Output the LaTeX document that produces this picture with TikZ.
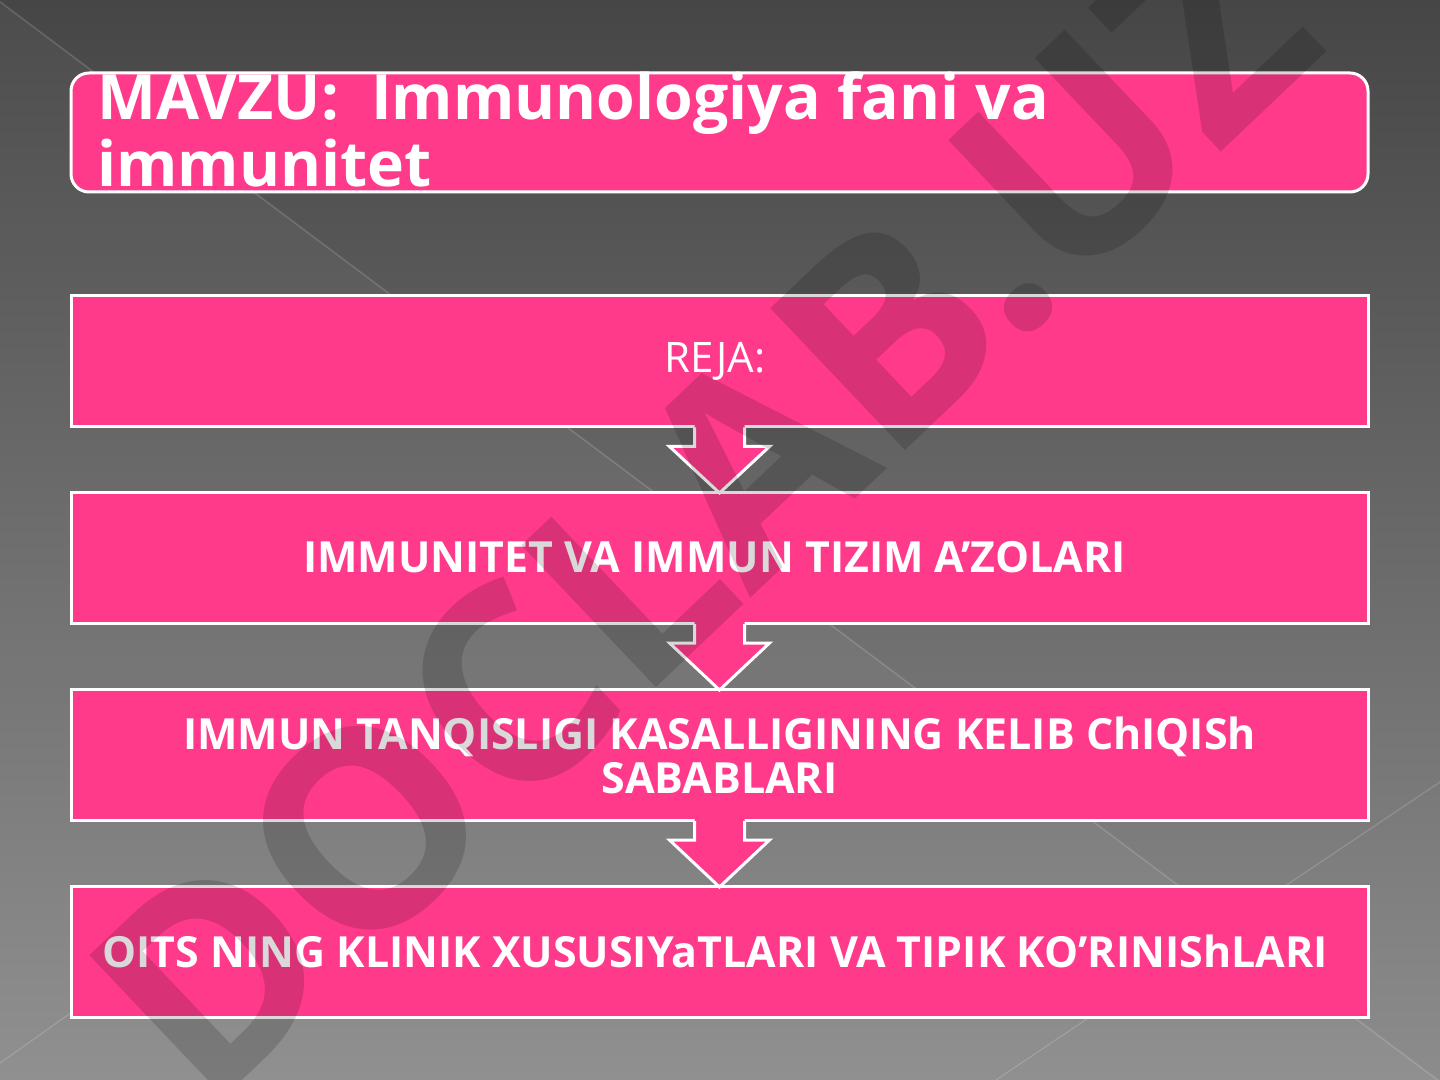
\documentclass[tikz,border=0pt]{standalone}
\usepackage{fontspec}
\setmainfont{Open Sans}
\usetikzlibrary{calc}
\definecolor{pinkfill}{RGB}{255,58,138}
\definecolor{bgtop}{RGB}{70,70,70}
\definecolor{bgmid}{RGB}{90,90,90}
\definecolor{bgbot}{RGB}{140,140,140}
\newcommand\flowarrow[2]{%
  \path (#1.south) coordinate (fs) (#2.north) coordinate (ft);
  \fill[pinkfill] ($(fs)+(-25,-5)$) -- ($(fs)+(25,-5)$) -- ($(fs)+(25,18)$) -- ($(fs)+(50,18)$)
     -- ($(ft)+(0,2)$) -- ($(fs)+(-50,18)$) -- ($(fs)+(-25,18)$) -- cycle;
  \draw[arrowline] ($(fs)+(-25,-1)$) -- ($(fs)+(-25,18)$) -- ($(fs)+(-50,18)$) -- ($(ft)+(0,2)$)
     -- ($(fs)+(50,18)$) -- ($(fs)+(25,18)$) -- ($(fs)+(25,-1)$);
}
\begin{document}
\begin{tikzpicture}[x=0.5pt,y=-0.5pt,
  planbox/.style={fill=pinkfill, draw=white, line width=1.5pt, inner sep=0pt,
    minimum width=648.5pt, minimum height=65.5pt},
  arrowline/.style={draw=white, line width=1.5pt, line join=miter},
  boxtext/.style={text=white, inner sep=0pt, font=\bfseries\fontsize{21.45}{22}\selectfont},
  titletext/.style={text=white, inner sep=0pt, font=\bfseries\fontsize{31.25}{32}\selectfont},
  bgline/.style={draw=white, draw opacity=0.16, line width=0.6pt}]
\useasboundingbox (0,0) rectangle (1440,1080);
% background
\shade[top color=bgtop, middle color=bgmid, bottom color=bgbot] (0,0) rectangle (1440,1080);
\fill[white, fill opacity=0.035] (0,0) -- (1440,1080) -- (0,1080) -- cycle;
\draw[bgline] (0,2) -- (1440,1082);
\draw[bgline] (1440,782) -- (996,1080);
\draw[bgline] (0,1063) -- (150,957);
% boxes
\node[planbox, rounded corners=9pt, minimum height=59.5pt] (title) at (719.5,132.5) {};
\node[planbox] (b1) at (719.5,361.5) {};
\node[planbox] (b2) at (719.5,558) {};
\node[planbox] (b3) at (719.5,755) {};
\node[planbox] (b4) at (719.5,952) {};
% arrows
\flowarrow{b1}{b2}
\flowarrow{b2}{b3}
\flowarrow{b3}{b4}
% texts
\node[titletext, anchor=base west] (t1) at (97,120) {MAVZU:\ \ Immunologiya fani va};
\node[titletext, anchor=base west] (t2) at (97,187) {immunitet};
\node[text=white, inner sep=0pt, font=\fontsize{21}{21}\selectfont] (l1) at (715,361) {REJA:};
\node[boxtext] (l2) at (714.5,557) {IMMUNITET VA IMMUN TIZIM A’ZOLARI};
\node[boxtext, align=center] (l3) at (719.5,755) {IMMUN TANQISLIGI KASALLIGINING KELIB ChIQISh\\SABABLARI};
\node[boxtext] (l4) at (715,951) {OITS NING KLINIK XUSUSIYaTLARI VA TIPIK KO’RINIShLARI};
% watermark
\node[rotate=43.5, text=black, text opacity=0.15, inner sep=0pt,
  font=\bfseries\fontsize{137}{137}\selectfont] (wm) at (702,510) {DOCLAB.UZ};
\end{tikzpicture}
\end{document}
